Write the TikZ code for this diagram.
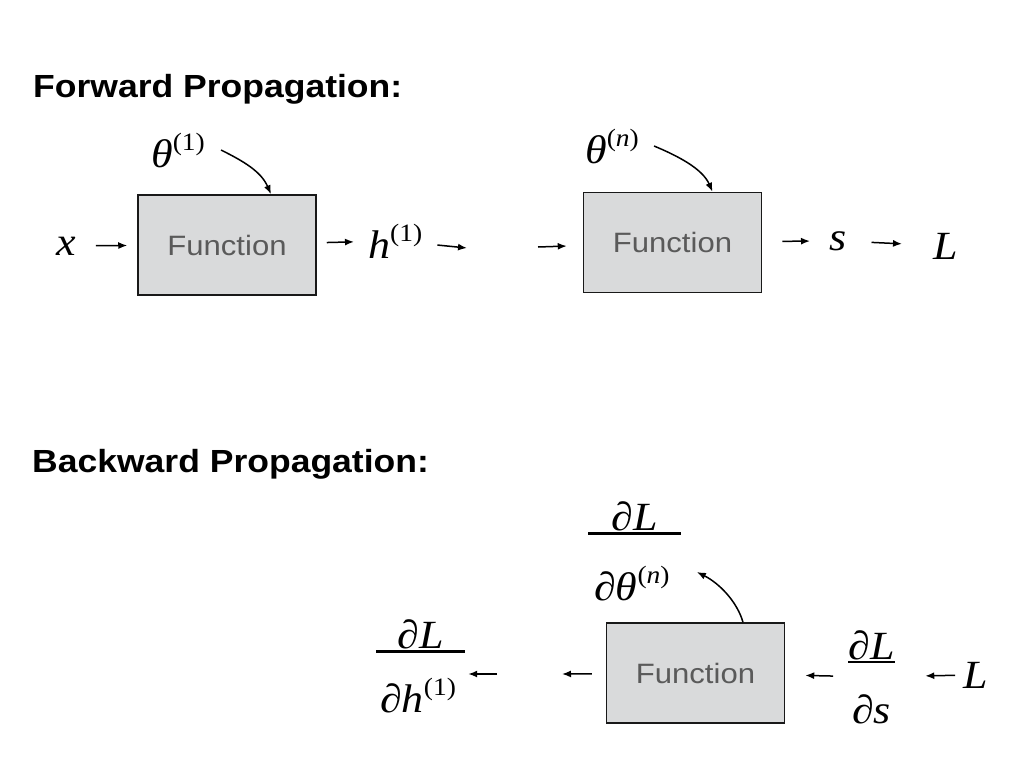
\documentclass[tikz,border=0pt]{standalone}
\usepackage{fontspec}
\setsansfont[FakeStretch=1.11]{Liberation Sans}
\newfontfamily\tms[FakeStretch=1.1]{Liberation Serif}
\usetikzlibrary{arrows.meta}
\definecolor{boxfill}{RGB}{217,218,219}
\definecolor{boxtext}{RGB}{90,90,90}
\newcommand{\mi}[1]{{\itshape #1}}
\newcommand{\sups}[1]{\raisebox{17pt}{\fontsize{25}{29}\selectfont #1}}
\newcommand{\pdfrac}[3][30pt]{\vbox{\halign{\hfil##\hfil\cr#2\cr\noalign{\kern1pt\hrule height 2.5pt\kern#1}\hskip4pt#3\hskip4pt\cr}}}
\begin{document}
\begin{tikzpicture}[x=1pt,y=-1pt]
    \tikzstyle{func}=[draw=black!90,line width=1.5pt,fill=boxfill,minimum width=178pt,minimum height=100pt,inner sep=0pt,text=boxtext,font=\fontsize{28}{33}\selectfont\sffamily]
    \tikzstyle{sym}=[inner sep=0pt,font=\fontsize{40}{46}\selectfont\tms]
    \tikzstyle{title}=[inner sep=0pt,anchor=base west,font=\fontsize{32}{38}\selectfont\sffamily\bfseries]
    \tikzstyle{arr}=[-{Latex[length=9pt,width=7pt]},line width=1.5pt]
    \useasboundingbox (0,0) rectangle (1024,768);

      \node[title] (fwd) at (33,97) {Forward Propagation:};
      \node[title] (bwd) at (32,472) {Backward Propagation:};

      \node (f1) at (227,245) [func] {Function};
      \node (f2) at (672.5,242.5) [func] {Function};
      \node (f3) at (695.5,673) [func] {Function};

      \node (x) at (56,255) [sym,anchor=base west] {\mi{x}};
      \node (h1) at (368,258) [sym,anchor=base west] {\mi{h}\sups{(1)}};
      \node (s) at (829,250) [sym,anchor=base west] {\mi{s}};
      \node (Lf) at (933,259) [sym,anchor=base west] {\mi{L}};
      \node (th1) at (151,167) [sym,anchor=base west] {\mi{θ}\sups{(1)}};
      \node (thn) at (585,163) [sym,anchor=base west] {\mi{θ}\sups{(\mi{n})}};
      \coordinate (hout) at (467,248);
      \coordinate (fin) at (538,247);

      \node (dth) at (588,600) [sym,anchor=base west] {\pdfrac[31pt]{∂\mi{L}}{\hskip2pt∂\mi{θ}\sups{(\mi{n})}\hskip7pt}};
      \node (dh) at (376,712) [sym,anchor=base west] {\pdfrac[25pt]{∂\mi{L}}{∂\mi{h}\sups{(1)}\hskip5pt}};
      \node (ds) at (848,723) [sym,anchor=base west] {\pdfrac[31pt]{∂\mi{L}}{∂\mi{s}}};
      \node (Lb) at (963,688) [sym,anchor=base west] {\mi{L}};
      \coordinate (bout) at (562,674);
      \coordinate (bin) at (497,674);

      \draw[arr,shorten <=20pt,shorten >=10pt] (x) -- (f1);
      \draw[arr,shorten <=10pt,shorten >=14pt] (f1) -- (h1);
      \draw[arr,shorten <=15pt] (h1) -- (hout);
      \draw[arr,shorten >=16pt] (fin) -- (f2);
      \draw[arr,shorten <=20pt,shorten >=19pt] (f2) -- (s);
      \draw[arr,shorten <=25pt,shorten >=31pt] (s) -- (Lf);
      \draw[arr] ([xshift=16pt]th1.east) .. controls +(22,11) and +(-10,-23) .. ([xshift=44pt]f1.north);
      \draw[arr] ([xshift=15pt]thn.east) .. controls +(24,10) and +(-10,-23) .. ([xshift=40pt]f2.north);

      \draw[arr,shorten <=14pt] (f3) -- (bout);
      \draw[arr,shorten >=3pt] (bin) -- (bin -| dh.east);
      \draw[arr,shorten <=15pt,shorten >=20pt] (ds) -- (f3);
      \draw[arr,shorten <=8pt,shorten >=30pt] (Lb) -- (ds);
      \draw[arr] ([xshift=47.5pt]f3.north) .. controls +(-6,-21) and +(22,11) .. ([xshift=16pt,yshift=28pt]dth.base east);
\end{tikzpicture}
\end{document}
